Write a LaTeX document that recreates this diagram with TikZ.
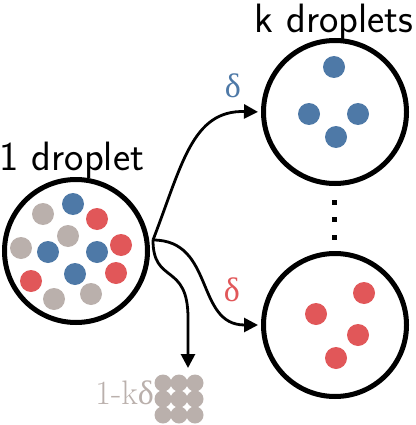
\documentclass[tikz,border=0pt]{standalone}
\usepackage{fontspec}
\newfontfamily\grk{Liberation Serif}
\usetikzlibrary{arrows.meta}
\definecolor{dblue}{HTML}{4E79A7}
\definecolor{dred}{HTML}{E15759}
\definecolor{dgray}{HTML}{BAB0AC}
\begin{document}
\begin{tikzpicture}[x=1pt,y=-1pt,
  drop/.style={circle,draw,line width=5pt,minimum size=143pt,inner sep=0pt},
  bdot/.style={circle,fill=dblue,minimum size=22pt,inner sep=0pt},
  rdot/.style={circle,fill=dred,minimum size=22pt,inner sep=0pt},
  gdot/.style={circle,fill=dgray,minimum size=22pt,inner sep=0pt},
  sdot/.style={circle,fill=dgray,minimum size=17pt,inner sep=0pt},
  vdot/.style={rectangle,fill=black,minimum size=5pt,inner sep=0pt},
  flow/.style={line width=2.8pt,-{Triangle[length=14pt,width=14pt]},shorten >=3pt},
  title/.style={font=\sffamily\fontsize{41}{43}\selectfont,inner sep=0pt,anchor=base},
  lab/.style={font=\fontsize{34}{36}\selectfont,inner sep=0pt}]
\useasboundingbox (0,0) rectangle (415,425);
% left droplet
\node[drop] (L) at (76,251) {};
\node[gdot] (l1) at (43,214) {};
\node[bdot] (l2) at (73,204) {};
\node[rdot] (l3) at (97,219) {};
\node[gdot] (l4) at (68,236) {};
\node[gdot] (l5) at (21,248) {};
\node[bdot] (l6) at (48,252) {};
\node[bdot] (l7) at (97,252) {};
\node[rdot] (l8) at (121,245) {};
\node[rdot] (l9) at (31,281) {};
\node[bdot] (l10) at (75,274) {};
\node[rdot] (l11) at (116,273) {};
\node[gdot] (l12) at (54,299) {};
\node[gdot] (l13) at (91,294) {};
\node[title] (t1) at (72,170) {1 droplet};
% top right droplet
\node[drop] (T) at (335,112) {};
\node[bdot] (t1d) at (334,67) {};
\node[bdot] (t2d) at (309,114) {};
\node[bdot] (t3d) at (358,114) {};
\node[bdot] (t4d) at (336,137) {};
\node[title] (t2) at (334,33) {k droplets};
% dots
\node[vdot] (v1) at (334,202) {};
\node[vdot] (v2) at (334,219) {};
\node[vdot] (v3) at (334,237) {};
% bottom right droplet
\node[drop] (B) at (335,325) {};
\node[rdot] (b1) at (364,293) {};
\node[rdot] (b2) at (316,314) {};
\node[rdot] (b3) at (358,335) {};
\node[rdot] (b4) at (336,358) {};
% waste grid
\foreach \i/\x in {1/163,2/179,3/195}
  \foreach \j/\y in {1/383,2/399,3/415}
    \node[sdot] (g\i\j) at (\x,\y) {};
\node[lab,text=dgray,anchor=base east] (w) at (154,404) {1-k{\grk δ}};
% arrows
\coordinate (src) at (153,240);
\coordinate (dn) at (188,368);
\draw[flow] (src) .. controls (182,165) and (192,110) .. (T.west);
\draw[flow] (src) .. controls (215,240) and (195,325) .. (B.west);
\draw[line width=2.8pt,-{Triangle[length=14pt,width=14pt]}] (src) .. controls (153,285) and (188,262) .. (188,318) -- (dn);
\node[lab,text=dblue] (d1) at (233,86) {\grk δ};
\node[lab,text=dred] (d2) at (232,290) {\grk δ};
\end{tikzpicture}
\end{document}
